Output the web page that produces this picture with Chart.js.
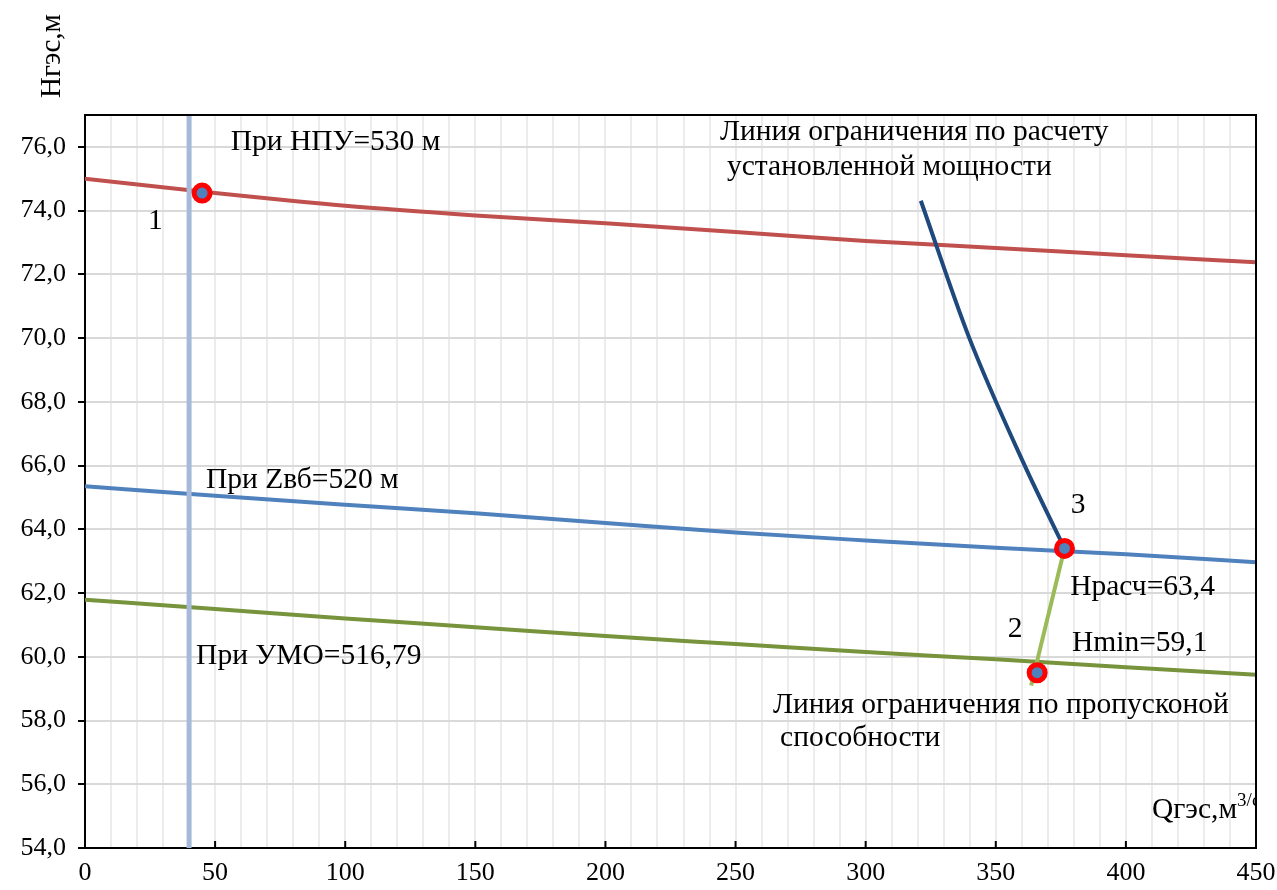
<!DOCTYPE html>
<html>
<head>
<meta charset="utf-8">
<script src="https://cdn.jsdelivr.net/npm/chart.js@4"></script>
<style>
  body { margin: 0; background: #fff; }
  canvas { display: block; }
</style>
</head>
<body>
<canvas id="head-chart" width="1277" height="890"></canvas>
<script>
// расход, м3/с
var qValues = [0, 50, 100, 150, 200, 250, 300, 350, 400, 450];
// напор при НПУ=530 м
var hNpu = [75.0, 74.55, 74.15, 73.85, 73.6, 73.33, 73.05, 72.83, 72.6, 72.38];
// напор при Zвб=520 м
var hZvb = [65.35, 65.05, 64.77, 64.5, 64.2, 63.9, 63.65, 63.42, 63.22, 62.97];
// напор при УМО=516,79
var hUmo = [61.79, 61.5, 61.2, 60.93, 60.65, 60.4, 60.15, 59.92, 59.67, 59.44];

// расчетный и минимальный напор
var hRasch = 63.4;
var hMin = 59.1;

// линия ограничения по расчету установленной мощности
var powerQ = [321.2, 339.5, 360.6, 376.4];
var powerH = [74.31, 70.07, 66.09, hRasch];

// линия ограничения по пропускной способности
var flowQ = [376.4, 363.6];
var flowH = [hRasch, hMin];

// характерные точки 1, 3, 2
var pointQ = [45, 376.4, 365.9];
var pointH = [74.55, hRasch, 59.5];

// вертикальная линия Q=40
var limitQ = 40;

var xTicks = [];
for (var q = 0; q <= 450; q += 10) xTicks.push(q);
var yTicks = [54, 56, 58, 60, 62, 64, 66, 68, 70, 72, 74, 76];

function fmt(v) { return v.toFixed(1).replace('.', ','); }
function pairs(xs, ys) { return xs.map(function (x, i) { return {x: x, y: ys[i]}; }); }

var serif = '"Liberation Serif", "Times New Roman", serif';

var notes = [
  {text: 'При НПУ=530 м', x: 56, y: 76.16},
  {text: '1', x: 27, y: 73.67, align: 'center'},
  {text: 'Линия ограничения по расчету', x: 244, y: 76.47},
  {text: 'установленной мощности', x: 246.7, y: 75.37},
  {text: 'При Zвб=520 м', x: 46.5, y: 65.53},
  {text: '3', x: 381.6, y: 64.75, align: 'center'},
  {text: 'Нрасч=' + fmt(hRasch), x: 378.6, y: 62.17},
  {text: '2', x: 357.4, y: 60.85, align: 'center'},
  {text: 'Hmin=' + fmt(hMin), x: 379.3, y: 60.41},
  {text: 'При УМО=516,79', x: 42.7, y: 60.03},
  {text: 'Линия ограничения по пропусконой', x: 264.4, y: 58.49},
  {text: 'способности', x: 267.1, y: 57.43}
];

var decorPlugin = {
  id: 'decor',
  afterDraw: function (chart) {
    var ctx = chart.ctx, a = chart.chartArea;
    var xs = chart.scales.x, ys = chart.scales.y;
    ctx.save();
    // рамка сверху и справа
    ctx.strokeStyle = '#000';
    ctx.lineWidth = 2;
    ctx.beginPath();
    ctx.moveTo(a.left, a.top);
    ctx.lineTo(a.right, a.top);
    ctx.lineTo(a.right, a.bottom);
    ctx.stroke();
    // внутренние засечки оси Q
    ctx.beginPath();
    xTicks.forEach(function (v) {
      if (v % 50 !== 0 || v === 0) return;
      var px = xs.getPixelForValue(v);
      ctx.moveTo(px, a.bottom);
      ctx.lineTo(px, a.bottom - 7);
    });
    ctx.stroke();

    ctx.fillStyle = '#000';
    ctx.font = '29.5px ' + serif;
    ctx.textBaseline = 'middle';
    notes.forEach(function (n) {
      ctx.textAlign = n.align || 'left';
      ctx.fillText(n.text, xs.getPixelForValue(n.x), ys.getPixelForValue(n.y));
    });

    // подпись оси Q, индекс обрезается рамкой
    ctx.save();
    ctx.beginPath();
    ctx.rect(a.left, a.top, a.right - a.left - 1, a.bottom - a.top);
    ctx.clip();
    ctx.textAlign = 'left';
    var qx = xs.getPixelForValue(410), qy = ys.getPixelForValue(55.2);
    ctx.fillText('Qгэс,м', qx, qy);
    var w = ctx.measureText('Qгэс,м').width;
    ctx.font = '19px ' + serif;
    ctx.fillText('3/с', qx + w, qy - 9);
    ctx.restore();

    // подпись оси H
    ctx.font = '29px ' + serif;
    ctx.translate(52, 56);
    ctx.rotate(-Math.PI / 2);
    ctx.textAlign = 'center';
    ctx.fillText('Нгэс,м', 0, 0);
    ctx.restore();
  }
};

var ctx = document.getElementById('head-chart').getContext('2d');
new Chart(ctx, {
  type: 'scatter',
  data: {
    datasets: [
      {
        label: 'точки',
        data: pairs(pointQ, pointH),
        pointRadius: 8,
        pointBorderWidth: 5,
        pointBackgroundColor: '#4f81bd',
        pointBorderColor: '#ff0000',
        showLine: false,
        order: 0
      },
      {
        label: 'Q=40',
        data: [{x: limitQ, y: 54}, {x: limitQ, y: 77}],
        showLine: true,
        borderColor: '#a6b9d8',
        borderWidth: 5,
        pointRadius: 0,
        order: 1
      },
      {
        label: 'ограничение по мощности',
        data: pairs(powerQ, powerH),
        showLine: true,
        borderColor: '#1f497d',
        borderWidth: 4,
        pointRadius: 0,
        cubicInterpolationMode: 'monotone',
        order: 2
      },
      {
        label: 'ограничение по пропускной способности',
        data: pairs(flowQ, flowH),
        showLine: true,
        borderColor: '#9bbb59',
        borderWidth: 4,
        pointRadius: 0,
        order: 2
      },
      {
        label: 'НПУ',
        data: pairs(qValues, hNpu),
        showLine: true,
        borderColor: '#c0504d',
        borderWidth: 4,
        pointRadius: 0,
        cubicInterpolationMode: 'monotone',
        order: 3
      },
      {
        label: 'Zвб',
        data: pairs(qValues, hZvb),
        showLine: true,
        borderColor: '#4f81bd',
        borderWidth: 4,
        pointRadius: 0,
        cubicInterpolationMode: 'monotone',
        order: 3
      },
      {
        label: 'УМО',
        data: pairs(qValues, hUmo),
        showLine: true,
        borderColor: '#77933c',
        borderWidth: 4,
        pointRadius: 0,
        cubicInterpolationMode: 'monotone',
        order: 3
      }
    ]
  },
  options: {
    responsive: false,
    animation: false,
    devicePixelRatio: 1,
    layout: { padding: { top: 115, right: 21, left: 0, bottom: 0 } },
    plugins: {
      legend: { display: false },
      tooltip: { enabled: false }
    },
    scales: {
      x: {
        type: 'linear',
        min: 0,
        max: 450,
        afterBuildTicks: function (s) { s.ticks = xTicks.map(function (v) { return {value: v}; }); },
        afterFit: function (s) { s.height = 42; s.paddingLeft = 0; s.paddingRight = 0; },
        border: { color: '#000', width: 2 },
        grid: { color: '#ececec', lineWidth: 2, drawTicks: false },
        ticks: {
          autoSkip: false,
          maxRotation: 0,
          padding: 10,
          color: '#000',
          font: { family: serif, size: 26 },
          callback: function (v) { return v % 50 === 0 ? String(v) : ''; }
        }
      },
      y: {
        type: 'linear',
        min: 54,
        max: 77,
        afterBuildTicks: function (s) { s.ticks = yTicks.map(function (v) { return {value: v}; }); },
        afterFit: function (s) { s.width = 85; },
        border: { color: '#000', width: 2 },
        grid: { color: '#d9d9d9', lineWidth: 2, tickColor: '#000', tickLength: 7 },
        ticks: {
          padding: 12,
          color: '#000',
          font: { family: serif, size: 26 },
          callback: function (v) { return fmt(v); }
        }
      }
    }
  },
  plugins: [decorPlugin]
});
</script>
</body>
</html>
